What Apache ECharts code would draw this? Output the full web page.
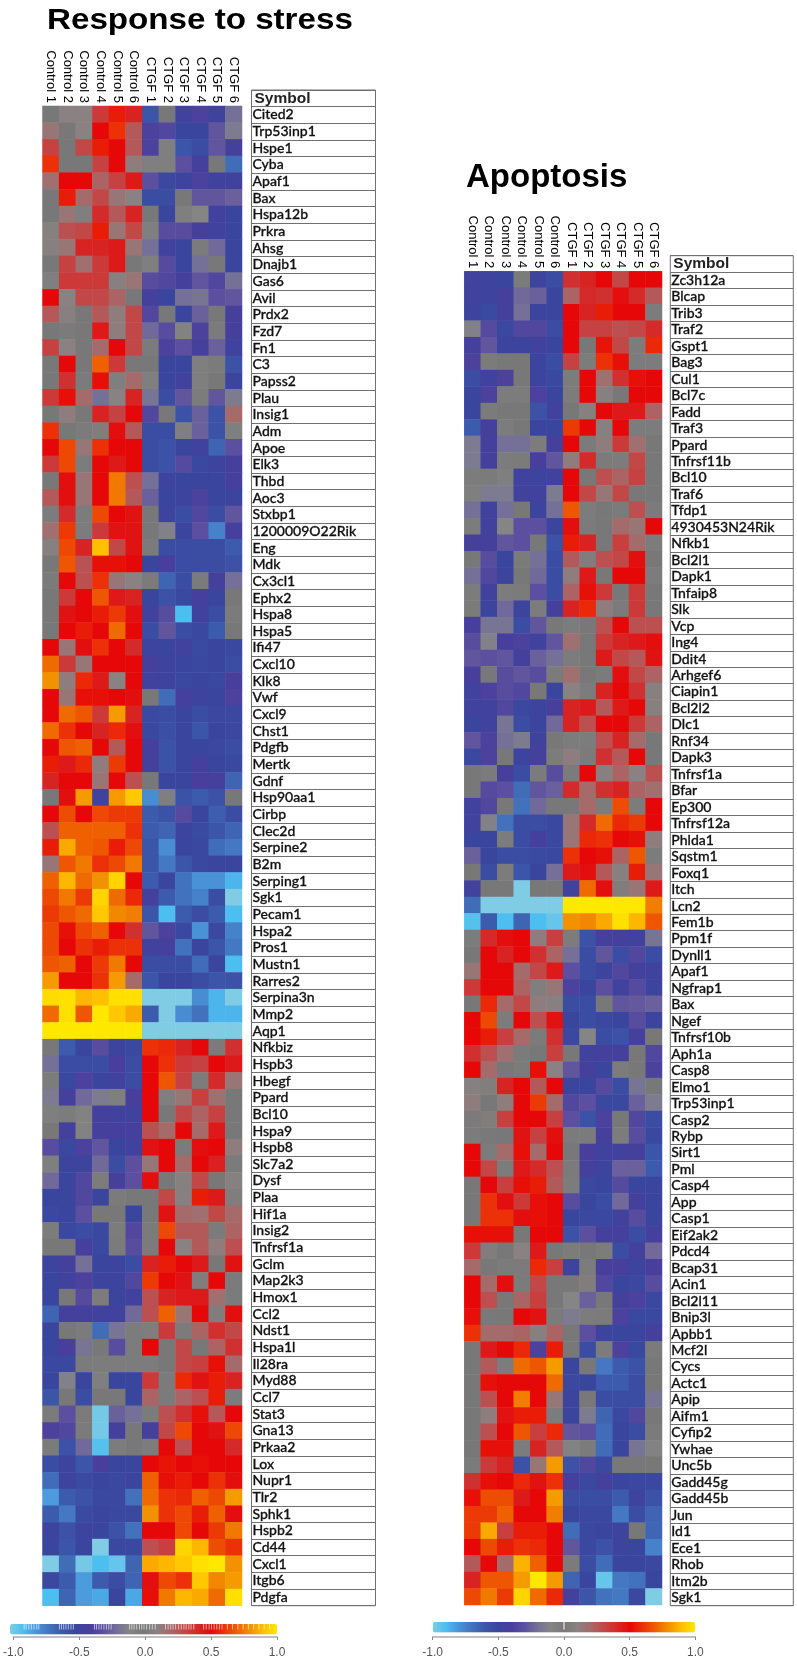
<!DOCTYPE html>
<html>
<head>
<meta charset="utf-8">
<title>Response to stress and Apoptosis heatmaps</title>
<script src="https://cdn.jsdelivr.net/npm/echarts@6/dist/echarts.min.js"></script>
<style>html,body{margin:0;padding:0;background:#fff}#c{width:797px;height:1659px}</style>
</head>
<body>
<div id="c"></div>
<script>
const sampleLabels = ['Control 1','Control 2','Control 3','Control 4','Control 5','Control 6','CTGF 1','CTGF 2','CTGF 3','CTGF 4','CTGF 5','CTGF 6'];
const legendTicks = [-1, -0.5, 0, 0.5, 1];
const rampColors = ['#7FCCE4','#4DBEF0','#4A92D8','#4272BC','#3B55A8','#3A459E','#483F9C','#5C4FA0','#757098','#858585','#787878','#8A8282','#A56A6A','#C24848','#D52A2A','#E60808','#EC3008','#EE6000','#F39200','#FFC000','#FFE800'];

const responseSymbols = ['Cited2','Trp53inp1','Hspe1','Cyba','Apaf1','Bax','Hspa12b','Prkra','Ahsg','Dnajb1','Gas6','Avil','Prdx2','Fzd7','Fn1','C3','Papss2','Plau','Insig1','Adm','Apoe','Elk3','Thbd','Aoc3','Stxbp1','1200009O22Rik','Eng','Mdk','Cx3cl1','Ephx2','Hspa8','Hspa5','Ifi47','Cxcl10','Klk8','Vwf','Cxcl9','Chst1','Pdgfb','Mertk','Gdnf','Hsp90aa1','Cirbp','Clec2d','Serpine2','B2m','Serping1','Sgk1','Pecam1','Hspa2','Pros1','Mustn1','Rarres2','Serpina3n','Mmp2','Aqp1','Nfkbiz','Hspb3','Hbegf','Ppard','Bcl10','Hspa9','Hspb8','Slc7a2','Dysf','Plaa','Hif1a','Insig2','Tnfrsf1a','Gclm','Map2k3','Hmox1','Ccl2','Ndst1','Hspa1l','Il28ra','Myd88','Ccl7','Stat3','Gna13','Prkaa2','Lox','Nupr1','Tlr2','Sphk1','Hspb2','Cd44','Cxcl1','Itgb6','Pdgfa'];

const responseValues = [
[0,.1,.1,.35,.55,.42,-.6,0,-.45,-.38,-.45,-.2],
[.15,0,.1,.5,.6,.25,-.38,-.35,-.5,-.5,-.28,-.15],
[.32,0,.3,.55,.5,.25,-.38,-.05,-.6,-.55,-.28,-.42],
[.6,0,0,.32,.5,.12,-.05,-.05,-.3,-.42,0,-.68],
[.18,.5,.5,.22,.32,.45,-.3,-.52,-.48,-.38,-.45,-.45],
[0,.55,.2,.3,.15,.1,-.55,-.55,0,-.28,-.28,-.25],
[0,.15,-.05,.4,.25,.42,0,-.5,-.05,-.1,-.45,-.5],
[.08,.28,.3,.55,.15,.3,-.05,-.32,-.32,-.42,-.45,-.5],
[.08,.15,.42,.42,.45,.15,-.2,-.45,-.5,-.02,-.22,-.5],
[0,.32,.18,.35,.45,0,-.05,-.33,-.5,-.2,0,-.5],
[-.05,.35,.35,.35,.08,.15,-.32,-.35,-.42,-.28,-.35,-.2],
[.5,.1,.3,.3,.22,0,-.42,-.5,-.2,-.18,-.3,-.28],
[.25,.08,0,.25,.12,.3,-.35,0,-.5,-.25,0,-.42],
[0,-.02,0,.45,.12,.3,-.22,-.32,-.08,-.38,-.02,-.42],
[.32,.1,0,.2,.5,.3,-.02,-.38,-.3,-.42,-.25,-.45],
[0,.5,0,.7,.35,0,0,-.5,-.5,-.05,-.02,-.58],
[0,.38,-.02,.52,-.05,.2,-.05,-.5,-.45,-.05,0,-.48],
[.35,.52,.2,-.2,.1,.42,-.18,-.55,-.28,-.03,-.28,-.15],
[0,.12,0,.42,.32,.5,-.35,0,-.58,-.25,-.58,.2],
[.6,0,-.02,.05,.48,.25,-.55,-.55,-.05,-.25,-.58,-.05],
[.5,.65,.15,.6,.5,.5,-.55,-.58,-.5,-.45,-.65,-.3],
[.35,.65,-.03,.5,.45,.5,-.55,-.58,-.33,-.52,-.48,-.42],
[0,.48,.15,.5,.75,.28,-.2,-.48,-.5,-.5,-.5,-.42],
[.25,.48,.15,.5,.75,.25,-.25,-.5,-.48,-.38,-.5,-.48],
[-.03,.4,-.03,.65,.5,.47,0,-.48,-.55,-.35,-.55,-.28],
[.18,.62,-.03,.35,.47,.47,0,-.12,-.5,-.3,-.75,-.42],
[.08,.65,.42,.9,.3,.47,-.02,-.55,-.55,-.55,-.55,-.62],
[0,.68,.27,.52,.52,.5,-.5,-.4,-.55,-.55,-.55,-.58],
[-.02,.5,.28,.6,.15,.1,.02,-.65,-.55,-.02,-.42,-.2],
[0,.35,.5,.68,.45,.42,-.5,-.58,-.52,-.42,-.5,0],
[0,.47,.5,.55,.62,.48,-.45,-.32,-.9,-.45,-.55,-.02],
[0,.5,.55,.5,.72,.5,-.55,-.28,-.55,-.52,-.62,0],
[.5,.15,.48,.6,.5,.4,-.48,-.5,-.45,-.53,-.5,-.52],
[.72,.35,.15,.5,.5,.5,-.42,-.48,-.5,-.52,-.5,-.55],
[.8,.12,.58,.45,.1,.5,-.45,-.48,-.52,-.5,-.52,-.4],
[.5,.15,.52,.52,.5,.48,0,-.68,-.42,-.48,-.5,-.38],
[.5,.72,.68,.35,.82,.42,-.53,-.55,-.5,-.55,-.52,-.52],
[.72,.6,.5,.42,.58,.48,-.52,-.56,-.5,-.6,-.5,-.52],
[.5,.68,.7,.5,.25,.5,-.42,-.58,-.5,-.5,-.52,-.55],
[.55,.45,.58,.12,.62,.5,-.42,-.58,-.5,-.42,-.5,-.52],
[.42,.5,.5,.15,.5,.28,0,-.5,-.5,-.4,-.42,-.65],
[0,.48,.82,-.45,.82,.92,-.78,-.05,-.58,-.62,-.58,0],
[.5,.66,.5,.65,.62,.62,-.62,-.58,-.33,-.5,-.63,-.55],
[.28,.7,.7,.7,.7,.6,-.62,-.65,-.48,-.53,-.6,-.65],
[.55,.85,.7,.68,.55,.65,-.6,-.78,-.5,-.52,-.68,-.72],
[.15,.68,.75,.6,.65,.75,-.6,-.72,-.6,-.52,-.5,-.5],
[.7,.88,.72,.8,.95,.5,-.62,-.5,-.7,-.8,-.8,-.88],
[.65,.75,.62,.95,.72,.58,-.42,-.62,-.7,-.75,-.55,-1],
[.62,.68,.72,.92,.78,.76,-.6,-.9,-.62,-.55,-.62,-.9],
[.65,.52,.65,.7,.5,.38,-.28,-.38,-.52,-.8,-.52,-.75],
[.65,.5,.6,.55,.6,.6,-.45,-.42,-.7,-.5,-.6,-.72],
[.68,.7,.5,.62,.75,.5,-.55,-.55,-.55,-.68,-.48,-.9],
[.82,.5,.5,.6,.82,.2,-.6,-.5,-.5,-.55,-.6,-.58],
[.97,.98,.88,.9,.98,.98,-1,-1,-1,-.78,-.88,-1],
[.72,.98,.68,1,.92,.85,-.62,-1,-.78,-.7,-.88,-.88],
[1,1,1,1,1,1,-1,-1,-1,-1,-1,-1],
[0,-.62,-.5,-.32,-.48,-.52,.6,.58,.42,.5,-.02,.38],
[-.2,-.55,-.55,-.55,-.4,-.55,.5,.6,.35,.32,.5,.45],
[-.03,-.52,-.38,-.5,-.45,-.55,.5,.68,.32,-.03,.4,.15],
[-.15,-.42,-.22,-.15,-.05,-.4,.5,-.05,.15,.33,.18,0],
[-.05,-.03,-.08,-.42,-.45,-.45,.5,0,.3,.22,.32,0],
[0,-.42,-.08,-.42,-.42,-.42,.28,.2,.5,.2,.45,0],
[-.32,-.52,-.38,-.28,-.5,-.45,.47,.5,-.02,.48,.5,.12],
[-.05,-.48,-.48,-.22,-.55,-.3,.15,.5,.2,.5,.43,-.02],
[-.22,-.5,-.35,-.03,-.42,-.3,.48,0,.08,.3,0,.08],
[-.5,-.5,-.35,-.5,-.02,0,0,.3,.08,.55,.45,.05],
[-.52,-.5,-.3,0,0,-.5,0,.47,.2,.18,.3,.2],
[-.03,-.52,-.55,-.52,-.03,-.35,-.02,.65,.25,.25,-.02,.22],
[0,0,-.42,-.52,-.02,-.32,-.02,.5,.1,.25,.12,.28],
[-.48,-.42,-.2,-.5,-.48,-.55,.42,.55,.5,.45,0,.47],
[-.5,-.45,-.38,-.48,-.48,-.35,.62,.5,.47,.05,.5,-.02],
[-.5,0,-.33,-.03,-.48,-.45,.28,.42,.45,.45,.18,-.02],
[-.65,-.42,-.42,-.45,-.45,-.22,.28,.7,.15,.5,.05,.48],
[-.5,0,-.02,-.68,-.18,-.03,.05,.35,.02,.22,.38,.3],
[-.5,-.4,-.18,0,-.32,-.03,.5,0,.3,0,.22,.38],
[-.52,-.52,-.02,-.03,-.03,-.03,-.03,0,.3,.33,.52,.2],
[-.5,-.12,-.5,-.05,-.5,-.5,.35,-.02,.58,.47,.55,.42],
[-.6,0,-.55,0,0,-.5,.22,-.02,.22,.28,.55,-.03],
[-.02,-.3,-.02,-.98,-.25,-.2,-.02,.28,.38,.52,.25,.5],
[-.38,-.35,-.02,-.98,-.42,0,-.42,.3,.65,.5,.47,.65],
[-.02,-.58,-.22,-.92,-.03,0,-.03,.5,.28,.5,.5,.4],
[-.55,-.48,-.6,-.4,-.5,-.5,.5,.53,.5,.52,.5,.5],
[-.68,-.48,-.53,-.5,-.52,-.48,.7,.52,.55,.5,.6,.48],
[-.82,-.62,-.58,-.52,-.52,-.7,.72,.6,.58,.7,.65,.82],
[-.62,-.72,-.53,-.5,-.52,-.52,.8,.6,.65,.55,.7,.48],
[-.48,-.58,-.48,-.5,-.58,-.7,.5,.5,.65,.5,.62,.75],
[-.5,-.6,-.5,-1,-.52,-.52,.28,.33,.95,.88,.66,.6],
[-1,-.68,-.98,-.9,-.95,-.65,.85,.88,.92,.98,1,.8],
[-.52,-.62,-.82,-.62,-.55,-.65,.48,.65,.6,.92,.78,.82],
[-.9,-.65,-.82,-.85,-.5,-.85,.52,.75,.88,.85,.72,.98]
];

const apoptosisSymbols = ['Zc3h12a','Blcap','Trib3','Traf2','Gspt1','Bag3','Cul1','Bcl7c','Fadd','Traf3','Ppard','Tnfrsf11b','Bcl10','Traf6','Tfdp1','4930453N24Rik','Nfkb1','Bcl2l1','Dapk1','Tnfaip8','Slk','Vcp','Ing4','Ddit4','Arhgef6','Ciapin1','Bcl2l2','Dlc1','Rnf34','Dapk3','Tnfrsf1a','Bfar','Ep300','Tnfrsf12a','Phlda1','Sqstm1','Foxq1','Itch','Lcn2','Fem1b','Ppm1f','Dynll1','Apaf1','Ngfrap1','Bax','Ngef','Tnfrsf10b','Aph1a','Casp8','Elmo1','Trp53inp1','Casp2','Rybp','Sirt1','Pml','Casp4','App','Casp1','Eif2ak2','Pdcd4','Bcap31','Acin1','Bcl2l11','Bnip3l','Apbb1','Mcf2l','Cycs','Actc1','Apip','Aifm1','Cyfip2','Ywhae','Unc5b','Gadd45g','Gadd45b','Jun','Id1','Ece1','Rhob','Itm2b','Sgk1'];

const apoptosisValues = [
[-.45,-.48,-.5,-.02,-.48,-.55,.38,.42,.5,.3,.5,.5],
[-.45,-.48,-.42,-.22,-.25,-.5,.22,.4,.38,.48,.4,.25],
[-.48,-.53,-.42,-.2,-.48,-.5,.5,.42,.55,.5,.5,-.03],
[-.12,-.33,-.52,-.35,-.35,-.55,.5,.32,.32,.28,.3,.4],
[-.42,-.28,-.48,-.48,-.45,-.5,.5,0,.53,.3,-.03,.58],
[-.38,-.02,0,0,-.48,-.55,.32,-.03,.6,.52,-.03,-.03],
[-.55,-.45,-.38,0,-.48,-.52,-.03,.5,.18,.38,.52,.5],
[-.5,-.38,-.03,-.03,-.38,-.5,-.03,.5,.08,0,.5,.5],
[-.5,-.02,0,0,-.58,-.45,0,.08,.5,.45,.45,.22],
[-.62,-.42,-.03,0,-.5,-.5,.62,.5,.08,.5,-.03,-.03],
[-.15,-.42,-.2,-.2,-.03,-.42,.5,-.02,.12,.35,.18,0],
[-.15,-.42,-.03,-.02,-.4,-.28,.12,.4,.02,.03,.3,0],
[-.03,-.02,-.05,-.45,-.48,-.45,.5,0,.28,.22,.32,0],
[-.05,-.15,-.15,-.45,-.45,-.15,.5,.3,.15,.3,0,0],
[-.2,-.45,-.2,0,-.48,-.2,.68,-.03,0,-.02,.28,-.02],
[-.03,-.45,-.1,-.3,-.3,-.5,.48,-.02,0,.2,.15,.5],
[-.42,-.42,-.28,-.3,0,-.58,.55,.42,0,.33,.2,-.03],
[0,-.32,-.5,-.02,-.2,-.55,.25,.05,.28,.3,.48,0],
[-.2,-.35,-.48,0,-.22,-.55,.12,.45,0,.5,.5,-.03],
[-.03,-.45,-.03,-.02,-.3,-.55,.22,.52,.35,0,.35,0],
[-.02,-.48,-.22,-.48,-.03,-.42,.42,.58,.12,-.02,.35,0],
[-.4,-.18,-.18,-.55,-.28,0,-.03,0,.28,.5,.28,.28],
[-.32,-.12,-.42,-.38,-.45,-.28,.18,0,.35,.42,.45,.48],
[-.28,-.3,-.28,-.42,-.25,-.2,-.03,0,.45,.3,.25,.47],
[-.4,0,-.32,-.28,-.32,-.02,.18,0,-.02,.48,.3,.22],
[-.45,-.38,-.32,-.35,0,-.5,.1,-.03,.42,.5,.38,.08],
[-.45,-.45,-.35,-.52,-.48,-.4,.42,.45,.25,.45,.5,.08],
[-.5,-.45,-.18,-.55,-.48,-.22,.42,.28,.5,.5,.35,.22],
[-.28,-.38,-.2,-.15,-.45,0,-.03,-.03,.28,.42,.2,0],
[-.52,-.38,0,-.48,-.42,-.03,.12,-.02,.38,.25,.5,0],
[0,-.02,-.42,-.55,-.02,-.32,-.02,.5,.08,.22,.1,.28],
[0,-.33,-.3,-.68,-.28,-.25,.4,.2,.38,.42,.22,.18],
[-.45,-.35,0,-.7,-.22,0,0,.2,-.03,.66,-.03,.5],
[-.45,-.12,-.7,-.55,-.55,-.52,.15,.4,.72,.58,.62,.5],
[-.5,-.5,-.03,-.55,-.42,-.52,.15,.58,.6,.5,.52,.12],
[-.25,-.5,-.55,-.55,-.53,-.52,.6,.5,.52,.22,.68,-.03],
[0,-.55,-.03,-.6,-.5,-.2,.45,.48,.25,.08,.55,.15],
[-.45,0,0,-1,0,0,-.45,.72,.48,.05,.15,.45],
[-.68,-1,-1,-1,-1,-1,1,1,1,1,1,.76],
[-.92,-.62,-.9,-.65,-.9,-.95,.8,.78,.85,.98,.88,.68],
[-.03,.4,.48,.5,.12,.33,-.03,-.58,-.42,-.42,-.45,-.18],
[0,.5,.42,.5,.38,.22,-.2,-.55,-.28,-.55,-.35,-.55],
[.15,.5,.5,.2,.3,.45,-.3,-.55,-.48,-.35,-.43,-.45],
[.35,.5,.5,.22,.06,.15,-.38,-.5,-.3,-.45,-.33,-.48],
[0,.58,.2,.3,.12,.08,-.55,-.55,0,-.28,-.27,-.25],
[.5,.65,-.03,.5,.28,.47,-.5,-.55,-.52,-.5,-.32,-.48],
[.5,.55,.33,.2,-.02,.38,-.52,-.1,-.55,-.58,-.42,0],
[.38,.28,.18,-.02,0,.33,0,-.45,-.42,-.42,0,-.35],
[.5,.2,0,-.02,.52,.1,-.28,-.42,-.5,-.03,0,-.38],
[.08,.06,.42,.5,.25,.5,-.5,-.5,-.33,-.55,-.18,0],
[.12,0,.12,.5,.62,.2,-.35,-.3,-.52,-.52,-.25,-.15],
[.02,.05,.33,.5,.5,.33,-.3,-.58,-.38,0,-.35,-.55],
[-.03,-.01,0,.47,.32,.48,-.02,-.02,-.42,-.03,-.32,-.52],
[.5,-.03,.2,.52,.2,.5,0,-.4,-.45,-.45,-.42,-.6],
[.5,.3,-.03,.45,.4,.28,-.02,-.42,-.48,-.25,-.25,-.62],
[0,.5,.33,.52,.55,.25,-.03,-.52,-.5,-.33,-.5,-.5],
[0,.6,.48,.35,.52,.5,-.32,-.5,-.55,-.22,-.42,-.5],
[0,.6,.6,.48,.52,.5,-.5,-.52,-.52,-.45,-.32,-.5],
[.52,.52,.52,0,.5,.5,-.58,-.3,-.42,-.42,-.55,-.42],
[.35,.05,0,.1,.45,0,-.03,0,-.03,-.55,-.42,-.22],
[.2,0,-.02,.02,.58,.33,-.48,-.03,-.4,-.4,-.48,-.4],
[.5,.2,.48,-.02,.3,0,0,.05,-.35,-.5,-.52,-.32],
[.5,.28,0,.22,.33,0,-.1,-.25,0,-.42,-.38,-.52],
[.52,-.01,0,.5,.47,-.02,-.15,-.03,-.02,-.38,-.52,-.52],
[.6,.2,.2,.22,.08,.22,0,-.3,-.48,-.5,-.5,-.42],
[0,.45,.5,.58,-.38,.55,0,-.55,-.03,-.38,-.52,-.02],
[0,.25,-.03,.72,.68,.82,-.5,0,-.72,-.62,-.58,0],
[0,.52,.5,.5,.5,.72,-.52,-.5,-.62,-.62,-.55,0],
[0,.28,.5,.76,.5,.15,-.48,0,-.55,-.55,-.55,-.18],
[0,.12,.47,.55,.55,-.03,-.48,-.15,-.65,-.52,-.35,0],
[0,.28,.5,.68,.33,.58,-.28,-.3,-.68,-.5,-.55,-.02],
[0,.52,.52,-.03,.42,.25,-.08,-.02,-.68,-.5,-.18,-.08],
[-.02,.35,.42,-.58,.15,.82,-.58,-.35,-.52,0,0,0],
[.38,.52,.5,.58,.47,.6,-.42,-.52,-.42,-.5,-.52,-.52],
[.52,.66,.66,.45,.5,.82,-.55,-.55,-.55,-.62,-.48,-.58],
[.62,.62,.7,.5,.5,.76,-.5,-.52,-.52,-.72,-.55,-.65],
[.62,.85,.33,.55,.55,.5,-.68,-.52,-.5,-.48,0,-.66],
[.5,.65,.55,.6,.58,.5,-.28,-.52,-.58,-.48,-.5,-.75],
[.25,.5,.2,.87,.7,.5,-.02,-.55,-.68,-.5,-.5,-.52],
[.42,.68,.68,.82,1,.82,-.65,-.5,-.95,-.72,-.7,-.5],
[.65,.75,.62,.95,.72,.58,-.42,-.6,-.7,-.72,-.52,-1]
];

const responseLegendStripes = [-.918,-.903,-.882,-.863,-.843,-.822,-.807,-.65,-.635,-.618,-.601,-.583,-.563,-.545,-.384,-.369,-.351,-.333,-.313,-.294,-.276,-.258,-.118,-.101,-.084,-.064,-.043,-.026,-.009,.011,.034,.054,.076,.154,.174,.194,.212,.231,.254,.274,.294,.311,.331,.348,.369,.443,.463,.485,.503,.523,.543,.563,.583,.623,.663,.703,.743,.783,.823,.863,.903,.943];
const apoptosisLegendStripes = [0];

function cells(rows) {
  const out = [];
  rows.forEach((row, r) => row.forEach((v, c) => out.push([c, r, v])));
  return out;
}
const hiddenValueAxis = (gridIndex) => ({ type: 'value', gridIndex, min: 0, max: 1, show: false });

function heatX(gridIndex, padding) {
  return { type: 'category', gridIndex, data: sampleLabels, position: 'top',
    axisLine: {show:false}, axisTick: {show:false}, splitLine: {show:false},
    axisLabel: { rotate: 90, interval: 0, margin: 3, padding, fontFamily: 'Liberation Sans', fontSize: 13, color: '#000' } };
}
function heatY(gridIndex, data) {
  return { type: 'category', gridIndex, data, inverse: true, show: false };
}
function tableY(gridIndex, symbols) {
  const data = [{ value: 'Symbol', textStyle: { fontFamily: 'Liberation Sans', fontSize: 15.5, fontWeight: 'bold', color: '#222', textBorderWidth: 0, padding: [0,0,0,2] } }].concat(symbols);
  return { type: 'category', gridIndex, data, inverse: true,
    axisLine: {show:false}, axisTick: {show:false},
    splitLine: { show: true, interval: 0, lineStyle: { color: '#707070', width: 1 } },
    axisLabel: { inside: true, interval: 0, margin: 1, fontFamily: 'Lato', fontWeight: 500, fontSize: 14, color: '#111', textBorderColor: '#111', textBorderWidth: 0.3 } };
}
function legendX(gridIndex) {
  return { type: 'value', gridIndex, min: legendTicks[0], max: legendTicks[4], interval: 0.5, position: 'bottom', offset: 7.5,
    axisLine: { show: true, onZero: false, lineStyle: { color: '#aaa', width: 1.5 } },
    axisTick: { show: true, length: 3, inside: false, lineStyle: { color: '#888' } },
    splitLine: { show: false },
    axisLabel: { margin: 10, fontFamily: 'Liberation Sans', fontSize: 12, color: '#555', showMinLabel: true, showMaxLabel: true, hideOverlap: false,
      formatter: v => v.toFixed(1) } };
}
function heatSeries(x, y, rows) {
  return { type: 'heatmap', xAxisIndex: x, yAxisIndex: y, data: cells(rows), progressive: 0, emphasis: { disabled: true }, silent: true };
}
function stripeSeries(x, y, values, opacity) {
  return { type: 'custom', xAxisIndex: x, yAxisIndex: y, data: values, z: 10, silent: true, clip: false,
    encode: { x: 0 },
    renderItem(params, api) {
      const p = api.coord([api.value(0), 0]);
      const q = api.coord([api.value(0), 1]);
      return { type: 'rect', shape: { x: p[0] - 0.5, y: q[1], width: 1, height: p[1] - q[1] }, style: { fill: '#fff', opacity } };
    } };
}
function bar(seriesIndex, left, top, length) {
  return { type: 'continuous', seriesIndex, min: -1, max: 1, left, top, padding: 0, orient: 'horizontal', itemWidth: 10.5, itemHeight: length,
    calculable: false, hoverLink: false, realtime: false, text: null, showLabel: false, inRange: { color: rampColors }, textStyle: { fontSize: 0 }, z: 1 };
}

const chart = echarts.init(document.getElementById('c'), null, { renderer: 'canvas', width: 797, height: 1659 });
chart.setOption({
  animation: false,
  backgroundColor: '#fff',
  tooltip: { show: false },
  graphic: [
    { type: 'text', x: 47, y: 6, scaleX: 1.105, style: { text: 'Response to stress', font: 'bold 30px "Liberation Sans"', fill: '#000' } },
    { type: 'text', x: 466, y: 161, style: { text: 'Apoptosis', font: 'bold 33px "Liberation Sans"', fill: '#000' } }
  ],
  grid: [
    { left: 42.5, top: 106, width: 199.5, height: 1499.7 },
    { left: 251.5, top: 90, width: 124, height: 1515.7, show: true, borderColor: '#707070', borderWidth: 1, backgroundColor: '#fff' },
    { left: 10, top: 1624, width: 267, height: 10.5 },
    { left: 464.3, top: 271.3, width: 197.7, height: 1333.7 },
    { left: 670.3, top: 255.7, width: 123, height: 1350, show: true, borderColor: '#707070', borderWidth: 1, backgroundColor: '#fff' },
    { left: 432.7, top: 1622, width: 262.6, height: 10.5 }
  ],
  xAxis: [heatX(0, [3,0,0,0]), hiddenValueAxis(1), legendX(2), heatX(3, 0), hiddenValueAxis(4), legendX(5)],
  yAxis: [heatY(0, responseSymbols), tableY(1, responseSymbols), hiddenValueAxis(2), heatY(3, apoptosisSymbols), tableY(4, apoptosisSymbols), hiddenValueAxis(5)],
  visualMap: [bar(0, 10, 1624, 267), bar(1, 432.7, 1622, 262.6)],
  series: [
    heatSeries(0, 0, responseValues),
    heatSeries(3, 3, apoptosisValues),
    stripeSeries(2, 2, responseLegendStripes, 0.6),
    stripeSeries(5, 5, apoptosisLegendStripes, 1)
  ]
});
</script>
</body>
</html>
